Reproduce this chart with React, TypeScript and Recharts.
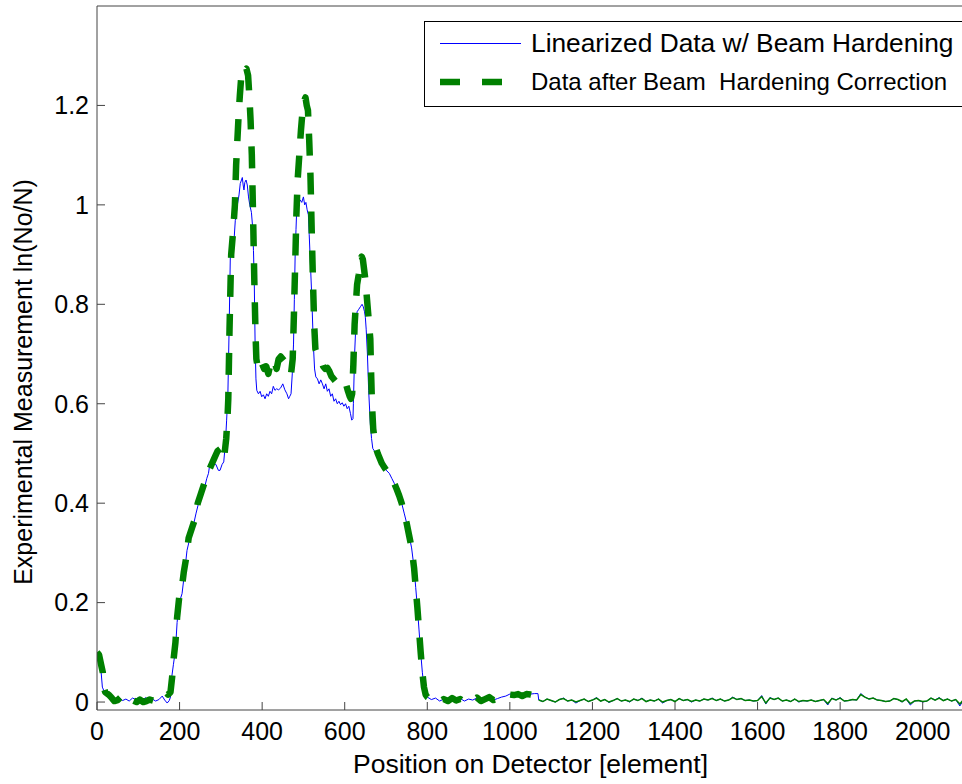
import React from 'react';
import { LineChart, Line, XAxis, YAxis, Legend } from 'recharts';

const FONT = '"Liberation Sans", Arial, Helvetica, sans-serif';

const xTicks = [0, 200, 400, 600, 800, 1000, 1200, 1400, 1600, 1800, 2000];
const yTicks = [0, 0.2, 0.4, 0.6, 0.8, 1, 1.2];

const seriesNames = ['Linearized Data w/ Beam Hardening', 'Data after Beam  Hardening Correction'];

// Linearized data (blue), 0 .. 1070
const blueX = [0, 5, 10, 13, 18, 25, 32, 40, 48, 55, 62, 70, 78, 86, 94, 102, 110, 118, 126, 134, 142, 150, 158, 164, 170, 175, 178, 181, 185, 190, 194, 199, 206, 212, 218, 225, 232, 240, 246, 254, 260, 266, 270, 274, 280, 288, 294, 298, 303, 307, 311, 314, 317, 320, 323, 328, 332, 335, 340, 344, 347, 350, 352, 354, 356, 358, 361, 364, 367, 370, 374, 377, 379, 381, 383, 385, 387, 391, 395, 399, 403, 407, 411, 415, 419, 423, 427, 431, 435, 440, 445, 450, 455, 460, 464, 467, 470, 473, 476, 478, 480, 482, 484, 488, 492, 496, 500, 503, 506, 509, 512, 514, 516, 520, 524, 527, 530, 534, 538, 542, 546, 550, 554, 558, 562, 566, 570, 574, 578, 582, 586, 590, 594, 598, 602, 606, 610, 614, 617, 620, 621, 624, 627, 630, 634, 638, 642, 645, 648, 650, 652, 655, 658, 662, 665, 668, 672, 676, 680, 685, 690, 696, 702, 708, 714, 720, 726, 732, 738, 744, 750, 756, 762, 768, 772, 776, 780, 784, 788, 792, 796, 800, 810, 820, 830, 840, 850, 860, 870, 880, 890, 900, 910, 920, 930, 940, 950, 960, 970, 980, 990, 1000, 1010, 1020, 1030, 1040, 1050, 1060, 1068];
const blueY = [0.10, 0.09, 0.06, 0.03, 0.02, 0.012, 0.006, 0.0, 0.004, 0.008, 0.003, 0.006, 0.002, 0.008, 0.005, 0.01, 0.004, 0.009, 0.003, 0.006, 0.002, 0.005, 0.012, 0.004, -0.002, 0.003, 0.01, 0.05, 0.075, 0.105, 0.16, 0.2, 0.218, 0.26, 0.305, 0.33, 0.35, 0.38, 0.40, 0.42, 0.43, 0.45, 0.46, 0.483, 0.48, 0.478, 0.466, 0.466, 0.478, 0.483, 0.52, 0.567, 0.62, 0.75, 0.90, 0.915, 0.93, 0.969, 1.0, 1.02, 1.043, 1.05, 1.055, 1.04, 1.03, 1.045, 1.05, 1.04, 1.016, 1.0, 0.985, 0.955, 0.908, 0.84, 0.72, 0.65, 0.627, 0.62, 0.625, 0.614, 0.618, 0.61, 0.62, 0.615, 0.625, 0.62, 0.635, 0.627, 0.63, 0.628, 0.632, 0.64, 0.628, 0.62, 0.61, 0.615, 0.62, 0.66, 0.72, 0.81, 0.90, 0.95, 0.996, 1.0, 1.01, 1.005, 1.016, 1.0, 1.005, 0.99, 0.98, 0.94, 0.90, 0.82, 0.72, 0.67, 0.654, 0.65, 0.64, 0.648, 0.64, 0.63, 0.64, 0.625, 0.63, 0.615, 0.62, 0.605, 0.61, 0.6, 0.605, 0.598, 0.602, 0.595, 0.6, 0.59, 0.595, 0.58, 0.567, 0.57, 0.6, 0.7, 0.76, 0.785, 0.79, 0.795, 0.8, 0.795, 0.785, 0.774, 0.75, 0.7, 0.627, 0.56, 0.53, 0.51, 0.505, 0.5, 0.495, 0.488, 0.48, 0.472, 0.465, 0.46, 0.45, 0.44, 0.428, 0.415, 0.4, 0.38, 0.36, 0.335, 0.31, 0.27, 0.23, 0.19, 0.145, 0.1, 0.06, 0.03, 0.015, 0.01, 0.005, 0.008, 0.002, 0.006, 0.003, 0.009, 0.004, 0.007, 0.002, 0.006, 0.004, 0.008, 0.003, 0.006, 0.009, 0.004, 0.007, 0.01, 0.012, 0.016, 0.017, 0.016, 0.017, 0.017, 0.016, 0.017, 0.017];

// Beam hardening corrected data (green dashed), 0 .. 1070
const greenX = [0, 5, 10, 14, 16, 20, 28, 36, 42, 50, 58, 65, 72, 80, 88, 96, 104, 112, 120, 128, 136, 144, 152, 160, 166, 172, 178, 182, 186, 190, 194, 199, 204, 210, 216, 222, 230, 238, 244, 252, 260, 268, 276, 284, 292, 300, 305, 309, 313, 316, 318, 321, 325, 330, 334, 337, 340, 343, 346, 350, 354, 358, 362, 366, 369, 372, 375, 378, 381, 384, 386, 390, 395, 400, 405, 410, 415, 420, 425, 430, 435, 440, 445, 450, 455, 460, 465, 470, 474, 477, 480, 483, 486, 490, 494, 498, 502, 505, 508, 511, 514, 517, 520, 523, 526, 529, 533, 538, 543, 548, 553, 558, 563, 568, 573, 578, 583, 588, 593, 598, 603, 608, 612, 615, 618, 621, 624, 627, 630, 634, 638, 641, 644, 647, 650, 653, 656, 659, 662, 664, 666, 669, 672, 676, 680, 685, 690, 696, 702, 708, 714, 720, 726, 732, 738, 744, 750, 756, 762, 768, 772, 776, 780, 784, 788, 792, 796, 800, 810, 820, 830, 840, 850, 860, 870, 880, 890, 900, 910, 920, 930, 940, 950, 960, 970, 980, 990, 1000, 1010, 1020, 1030, 1040, 1050, 1060, 1070];
const greenY = [0.10, 0.095, 0.075, 0.06, 0.03, 0.02, 0.015, 0.008, 0.002, 0.004, 0.01, 0.006, 0.0, 0.006, 0.003, 0.0, 0.005, 0.0, 0.002, 0.005, 0.003, 0.008, 0.01, 0.015, 0.02, 0.015, 0.02, 0.05, 0.09, 0.12, 0.17, 0.21, 0.22, 0.26, 0.29, 0.33, 0.35, 0.37, 0.40, 0.42, 0.44, 0.46, 0.475, 0.49, 0.505, 0.51, 0.49, 0.5, 0.53, 0.57, 0.61, 0.75, 0.9, 0.95, 1.0, 1.08, 1.13, 1.18, 1.22, 1.265, 1.274, 1.27, 1.274, 1.26, 1.22, 1.17, 1.1, 0.98, 0.85, 0.74, 0.69, 0.67, 0.665, 0.68, 0.67, 0.675, 0.66, 0.68, 0.69, 0.685, 0.67, 0.69, 0.695, 0.69, 0.685, 0.68, 0.67, 0.66, 0.69, 0.78, 0.88, 0.98, 1.05, 1.1, 1.15, 1.19, 1.21, 1.216, 1.2, 1.19, 1.13, 1.06, 0.95, 0.85, 0.76, 0.71, 0.70, 0.69, 0.688, 0.675, 0.67, 0.672, 0.665, 0.655, 0.65, 0.645, 0.64, 0.642, 0.64, 0.645, 0.64, 0.625, 0.615, 0.61, 0.62, 0.68, 0.76, 0.8, 0.84, 0.86, 0.885, 0.896, 0.89, 0.87, 0.85, 0.82, 0.79, 0.76, 0.73, 0.66, 0.6, 0.55, 0.53, 0.51, 0.5, 0.49, 0.48, 0.472, 0.465, 0.46, 0.45, 0.44, 0.428, 0.415, 0.4, 0.38, 0.36, 0.335, 0.31, 0.27, 0.23, 0.19, 0.145, 0.1, 0.06, 0.03, 0.015, 0.01, 0.004, 0.007, 0.001, 0.006, 0.002, 0.008, 0.003, 0.006, 0.0, 0.005, 0.004, 0.009, 0.002, 0.006, 0.01, 0.004, 0.006, 0.012, 0.01, 0.015, 0.014, 0.016, 0.012, 0.016, 0.015, 0.013, 0.016];

// Flat detector region 1070 .. 2100 (both series)
const noiseX = [1070, 1080, 1090, 1100, 1110, 1120, 1130, 1140, 1150, 1160, 1170, 1180, 1190, 1200, 1210, 1220, 1230, 1240, 1250, 1260, 1270, 1280, 1290, 1300, 1310, 1320, 1330, 1340, 1350, 1360, 1370, 1380, 1390, 1400, 1410, 1420, 1430, 1440, 1450, 1460, 1470, 1480, 1490, 1500, 1510, 1520, 1530, 1540, 1550, 1560, 1570, 1580, 1590, 1600, 1610, 1620, 1630, 1640, 1650, 1660, 1670, 1680, 1690, 1700, 1710, 1720, 1730, 1740, 1750, 1760, 1770, 1780, 1790, 1800, 1810, 1820, 1830, 1840, 1850, 1860, 1870, 1880, 1890, 1900, 1910, 1920, 1930, 1940, 1950, 1960, 1970, 1980, 1990, 2000, 2010, 2020, 2030, 2040, 2050, 2060, 2070, 2080, 2090, 2100];
const noiseBlue = [0.004, 0.001, 0.006, 0.003, 0.0, 0.005, 0.008, 0.002, 0.004, -0.002, 0.003, 0.006, 0.001, 0.004, 0.009, 0.002, 0.005, -0.001, 0.003, 0.007, 0.002, 0.004, 0.0, 0.006, 0.003, 0.008, 0.001, 0.004, 0.002, 0.006, -0.002, 0.003, 0.005, 0.001, 0.007, 0.003, 0.005, 0.0, 0.004, 0.002, 0.006, 0.004, 0.008, 0.003, 0.006, 0.002, 0.004, 0.01, 0.005, 0.007, 0.003, 0.004, 0.002, 0.003, 0.013, -0.004, 0.009, 0.005, 0.008, 0.002, 0.004, 0.001, 0.006, 0.0, 0.003, 0.002, 0.004, 0.001, 0.003, 0.005, -0.006, 0.008, 0.004, 0.009, 0.002, 0.003, 0.005, 0.004, 0.017, 0.01, 0.006, 0.008, 0.004, 0.003, 0.001, 0.002, 0.007, 0.005, 0.0, 0.006, -0.006, 0.002, 0.003, 0.0, 0.002, 0.008, 0.004, 0.009, 0.003, 0.006, 0.002, 0.005, -0.008, 0.006];
const noiseGreen = [0.004, 0.001, 0.006, 0.003, 0.0, 0.005, 0.007, 0.002, 0.004, 0.0, 0.003, 0.006, 0.001, 0.004, 0.008, 0.002, 0.005, 0.0, 0.003, 0.007, 0.002, 0.004, 0.001, 0.006, 0.003, 0.007, 0.001, 0.004, 0.002, 0.006, 0.0, 0.003, 0.005, 0.001, 0.007, 0.003, 0.005, 0.001, 0.004, 0.002, 0.006, 0.004, 0.007, 0.003, 0.006, 0.002, 0.004, 0.009, 0.005, 0.007, 0.003, 0.004, 0.002, 0.003, 0.011, -0.002, 0.008, 0.005, 0.008, 0.002, 0.004, 0.001, 0.006, 0.001, 0.003, 0.002, 0.004, 0.001, 0.003, 0.005, -0.003, 0.007, 0.004, 0.008, 0.002, 0.003, 0.005, 0.004, 0.015, 0.01, 0.006, 0.008, 0.004, 0.003, 0.001, 0.002, 0.007, 0.005, 0.001, 0.006, -0.003, 0.002, 0.003, 0.001, 0.002, 0.008, 0.004, 0.008, 0.003, 0.006, 0.002, 0.005, -0.004, 0.006];

const blueData = blueX.map((x, i) => ({ x, y: blueY[i] })).concat(noiseX.map((x, i) => ({ x, y: noiseBlue[i] })));
const greenData = greenX.map((x, i) => ({ x, y: greenY[i] }));
const greenTailData = noiseX.map((x, i) => ({ x, y: noiseGreen[i] }));

const BLUE = '#0000ff';
const GREEN = '#008000';
const AXIS = '#444444';

const YLabel = (props: any) => {
  const vb = props.viewBox || { x: 0, y: 6, width: 97, height: 704 };
  const cx = 32;
  const cy = vb.y + vb.height / 2 + 24;
  return (
    <text x={cx} y={cy} transform={`rotate(-90, ${cx}, ${cy})`} textAnchor="middle" fontSize={25} fontFamily={FONT} fill="#000">
      Experimental Measurement ln(No/N)
    </text>
  );
};

const XLabel = (props: any) => {
  const vb = props.viewBox || { x: 97, y: 710, width: 867, height: 74 };
  return (
    <text x={vb.x + vb.width / 2} y={vb.y + 63} textAnchor="middle" fontSize={26.5} fontFamily={FONT} fill="#000">
      Position on Detector [element]
    </text>
  );
};

const LegendBox = () => (
  <svg width={545} height={86} style={{ display: 'block' }}>
    <rect x={0.5} y={0.5} width={544} height={85} fill="#fff" stroke="#000" strokeWidth={1} />
    <line x1={16} y1={22.5} x2={97} y2={22.5} stroke={BLUE} strokeWidth={1} />
    <text x={107} y={31} fontSize={26.3} fontFamily={FONT} fill="#000">{seriesNames[0]}</text>
    <line x1={16} y1={61} x2={82} y2={61} stroke={GREEN} strokeWidth={6.5} strokeDasharray="20 22" />
    <text x={107} y={69} fontSize={24} fontFamily={FONT} fill="#000" style={{ whiteSpace: 'pre' }}>{seriesNames[1]}</text>
  </svg>
);

export default function App() {
  return (
    <div style={{ position: 'absolute', left: 0, top: 0, width: 962, height: 784, overflow: 'hidden', background: '#fff', fontFamily: FONT }}>
      <LineChart width={966} height={784} margin={{ top: 5, right: 1, bottom: 0, left: 0 }}>
        <XAxis
          xAxisId="main"
          dataKey="x"
          type="number"
          domain={[0, 2100]}
          ticks={xTicks}
          allowDataOverflow
          height={74}
          tickSize={-8}
          tickMargin={20}
          axisLine={{ stroke: AXIS }}
          tickLine={{ stroke: AXIS }}
          tick={{ fontSize: 25, fill: '#000', fontFamily: FONT }}
          label={(p: any) => <XLabel {...p} />}
        />
        <XAxis
          xAxisId="top"
          orientation="top"
          type="number"
          dataKey="x"
          domain={[0, 2100]}
          ticks={xTicks}
          allowDataOverflow
          height={1}
          tickSize={-8}
          tick={false}
          axisLine={{ stroke: AXIS }}
          tickLine={{ stroke: AXIS }}
        />
        <YAxis
          yAxisId="main"
          type="number"
          domain={[-0.016, 1.4]}
          ticks={yTicks}
          allowDataOverflow
          width={97}
          tickSize={-8}
          tickMargin={16}
          axisLine={{ stroke: AXIS }}
          tickLine={{ stroke: AXIS }}
          tick={{ fontSize: 25, fill: '#000', fontFamily: FONT }}
          label={(p: any) => <YLabel {...p} />}
        />
        <YAxis
          yAxisId="right"
          orientation="right"
          type="number"
          domain={[-0.016, 1.4]}
          ticks={yTicks}
          allowDataOverflow
          width={1}
          tickSize={-8}
          tick={false}
          axisLine={{ stroke: AXIS }}
          tickLine={{ stroke: AXIS }}
        />
        <Line
          xAxisId="main"
          yAxisId="main"
          data={blueData}
          dataKey="y"
          name={seriesNames[0]}
          type="linear"
          stroke={BLUE}
          strokeWidth={1}
          dot={false}
          activeDot={false}
          isAnimationActive={false}
        />
        <Line
          xAxisId="main"
          yAxisId="main"
          data={greenData}
          dataKey="y"
          name={seriesNames[1]}
          type="linear"
          stroke={GREEN}
          strokeWidth={6.5}
          strokeDasharray="22 17"
          strokeLinejoin="round"
          dot={false}
          activeDot={false}
          isAnimationActive={false}
        />
        <Line
          xAxisId="main"
          yAxisId="main"
          data={greenTailData}
          dataKey="y"
          name="tail"
          legendType="none"
          type="linear"
          stroke={GREEN}
          strokeWidth={1.5}
          dot={false}
          activeDot={false}
          isAnimationActive={false}
        />
        <Legend
          layout="vertical"
          align="center"
          verticalAlign="middle"
          content={() => <LegendBox />}
          wrapperStyle={{ left: 424, top: 21, width: 545, height: 86 }}
        />
      </LineChart>
    </div>
  );
}
